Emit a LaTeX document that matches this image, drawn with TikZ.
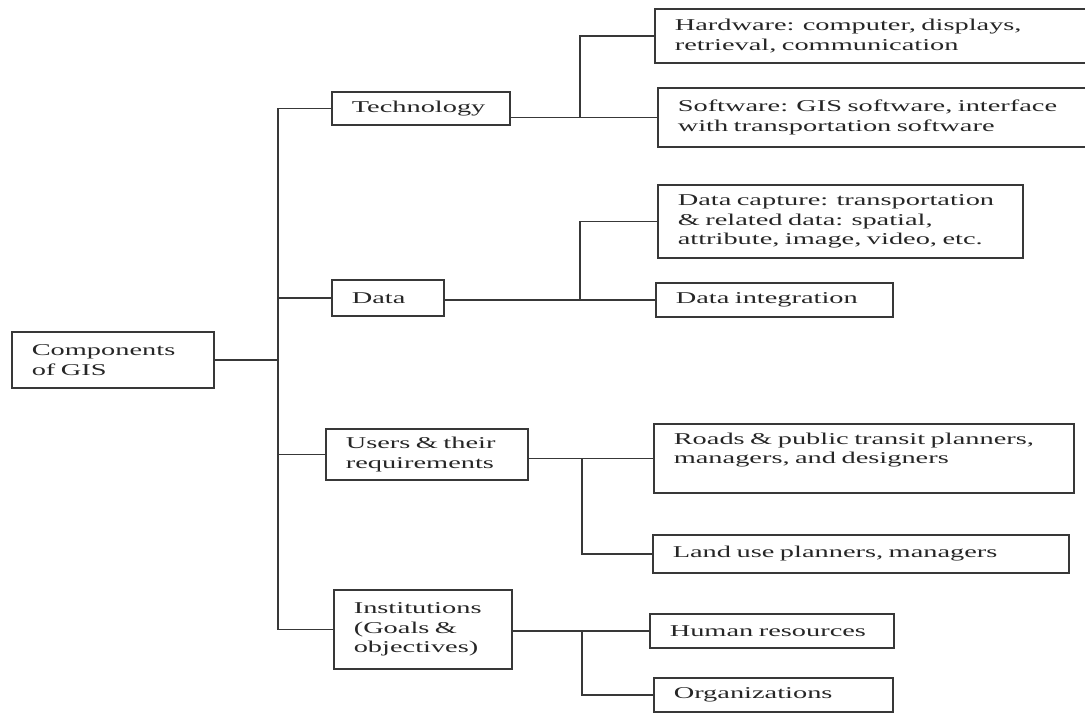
\documentclass[tikz,border=0pt]{standalone}
\usepackage{fontspec}
\setmainfont{Liberation Serif}[FakeStretch=1.72]
\usepackage{xcolor}
\usepackage{tikz}
\usetikzlibrary{positioning,calc}
\definecolor{inkgray}{gray}{0.22}
\tikzset{
    gisbox/.style={draw=inkgray, line width=1.6pt, anchor=west, align=left, inner xsep=20pt, inner ysep=0pt, text=black!85, font=\fontsize{16.5}{19.5}\selectfont},
    link/.style={draw=inkgray, line width=1.6pt}
}

\begin{document}
\begin{tikzpicture}[x=1pt, y=-1pt]
    \useasboundingbox (0,0) rectangle (1085,713);
    \node [gisbox, minimum width=202, text width=162, minimum height=56] (root) at (11,360) {Components\\ of GIS};
    \node [gisbox, minimum width=178, text width=138, minimum height=33] (tech) at (331,108.5) {Technology};
    \node [gisbox, minimum width=112, text width=72, minimum height=36] (data) at (331,298) {Data};
    \node [gisbox, minimum width=202, text width=162, minimum height=51] (users) at (325,454.5) {Users \& their\\ requirements};
    \node [gisbox, minimum width=178, text width=138, minimum height=79] (inst) at (333,629.5) {Institutions\\ (Goals \&\\ objectives)};
    \node [gisbox, minimum width=438, text width=398, minimum height=54] (hw) at (654,36) {Hardware: computer, displays,\\ retrieval, communication};
    \node [gisbox, minimum width=435, text width=395, minimum height=59] (soft) at (657,117.5) {Software: GIS software, interface\\ with transportation software};
    \node [gisbox, minimum width=365, text width=325, minimum height=73] (dcap) at (657,221.5) {Data capture: transportation\\ \& related data: spatial,\\ attribute, image, video, etc.};
    \node [gisbox, minimum width=237, text width=197, minimum height=34] (dint) at (655,300) {Data integration};
    \node [gisbox, minimum width=420, text width=380, minimum height=69] (roads) at (653,458.5) {Roads \& public transit planners,\\ managers, and designers\par\vspace{17pt}};
    \node [gisbox, minimum width=416, text width=376, minimum height=38] (land) at (652,554) {Land use planners, managers};
    \node [gisbox, minimum width=244, text width=204, minimum height=34] (hr) at (649,631) {Human resources};
    \node [gisbox, minimum width=239, text width=199, minimum height=34] (org) at (653,695) {Organizations};
    % trunk and junctions
    \coordinate (trunk) at (278,0);
    \coordinate (jT) at (580,0);
    \coordinate (jD) at (580,0);
    \coordinate (jU) at (582,0);
    \coordinate (jI) at (582,0);
    \draw [link] (root.east) -- (root.east -| trunk);
    \draw [link] (tech.west) -| (trunk |- inst.west) -- (inst.west);
    \draw [link] (data.west) -- (data.west -| trunk);
    \draw [link] (users.west) -- (users.west -| trunk);
    \draw [link] (tech.east |- soft.west) -- (soft.west);
    \draw [link] (hw.west) -| (jT |- soft.west);
    \draw [link] (data.east |- dint.west) -- (dint.west);
    \draw [link] (dcap.west) -| (jD |- dint.west);
    \draw [link] (users.east |- roads.west) -- (roads.west);
    \draw [link] (land.west) -| (jU |- roads.west);
    \draw [link] (inst.east |- hr.west) -- (hr.west);
    \draw [link] (org.west) -| (jI |- hr.west);
\end{tikzpicture}
\end{document}
